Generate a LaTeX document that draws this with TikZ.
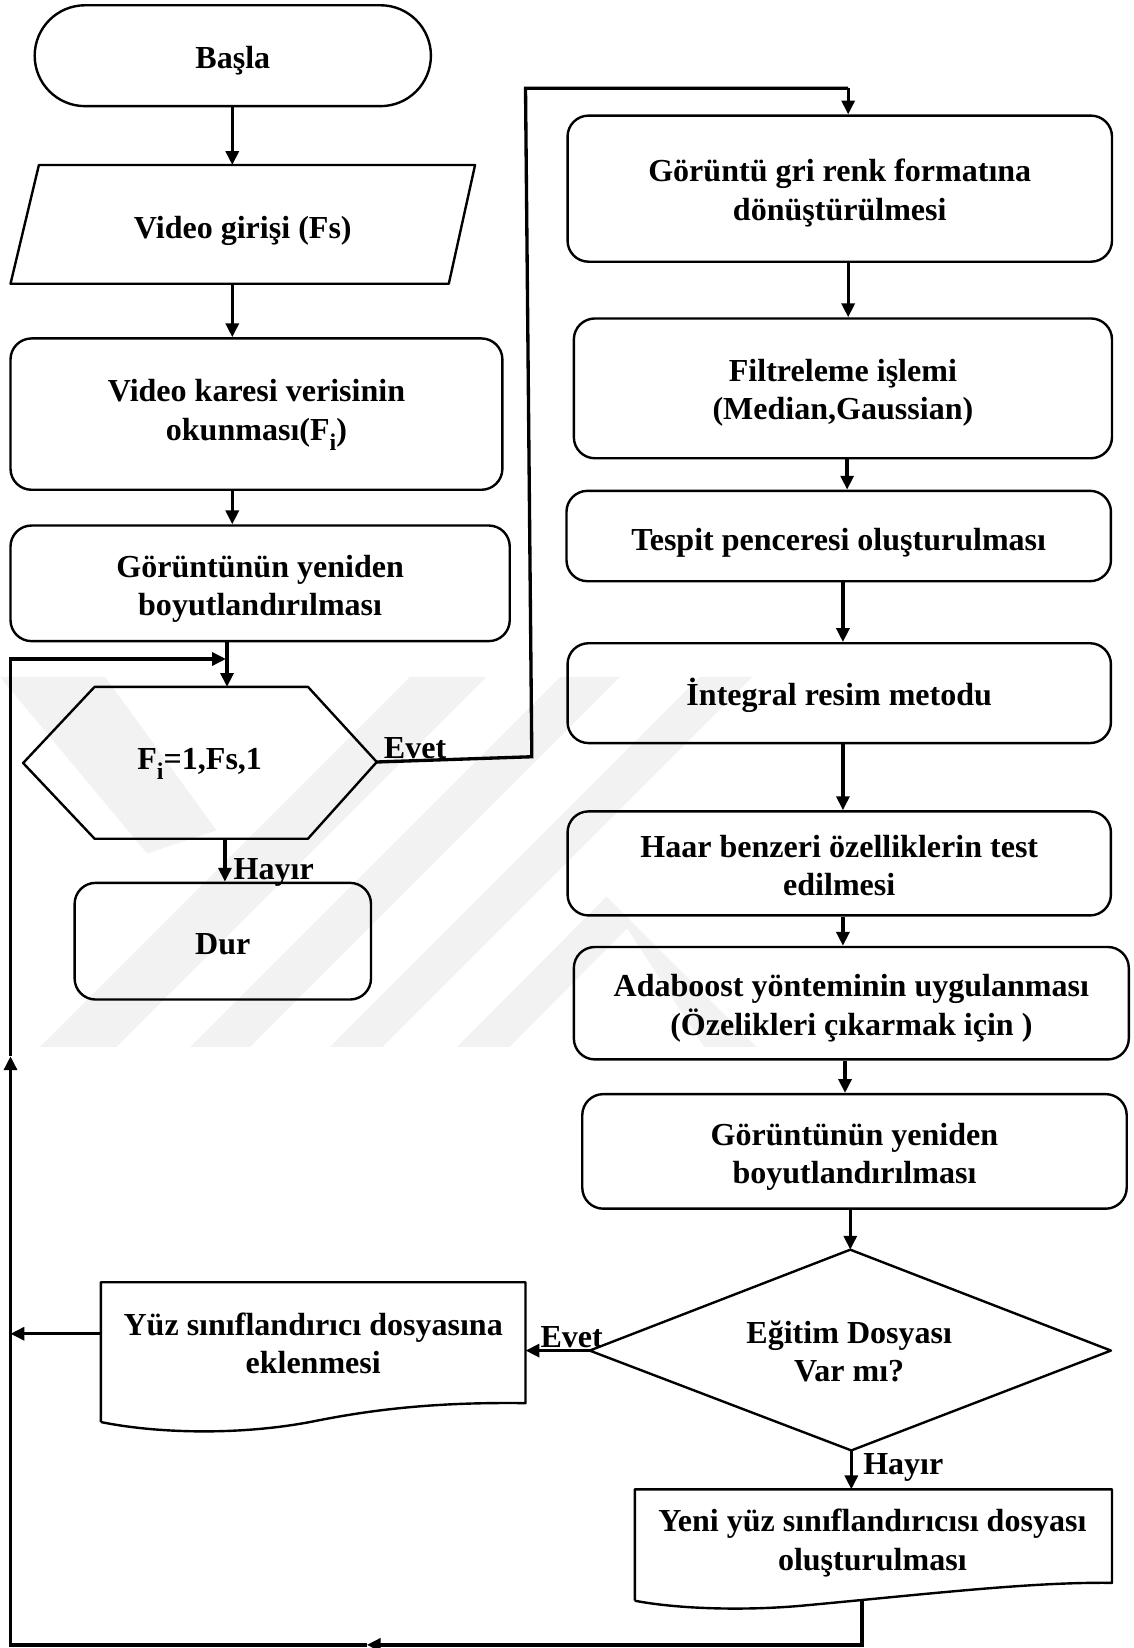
\documentclass[tikz,border=0pt]{standalone}
\usepackage{fontspec}
\setmainfont{Liberation Serif}
\usetikzlibrary{arrows.meta}
\newcommand{\subi}{\raisebox{-0.32em}{\fontsize{13}{13}\selectfont i}}
\begin{document}
\begin{tikzpicture}[x=0.02cm,y=-0.02cm,
  font=\fontsize{17.35}{20.8}\selectfont\bfseries,
  outline/.style={draw, line width=1.3pt, line join=round},
  rbox/.style={draw, line width=1.3pt, rounded corners=0.4cm, inner sep=0pt},
  wh/.style 2 args={minimum width=#1*0.02cm, minimum height=#2*0.02cm},
  txt/.style={align=center, inner sep=0pt},
  lbl/.style={inner sep=0pt, anchor=base west},
  flow/.style={line width=1.8pt, line join=miter, -{Triangle[length=7.5pt,width=7pt]}},
  link/.style={line width=1.8pt},
  wband/.style={fill=black!5, draw=none},
]
\useasboundingbox (0,0) rectangle (1078,1568);

% faint background stripes
\fill[wband] (38,996) -- (111,996) -- (463,644) -- (390,644) -- cycle;
\fill[wband] (181,996) -- (238,996) -- (590,644) -- (533,644) -- cycle;
\fill[wband] (314,996) -- (364,996) -- (716,644) -- (666,644) -- cycle;
\fill[wband] (435,996) -- (485,996) -- (602,878) -- (577,853) -- cycle;
\fill[wband] (577,853) -- (602,878) -- (720,996) -- (670,996) -- cycle;
\fill[wband] (0,644) -- (100,644) -- (206,790) -- (140,812) -- cycle;

% ---------------- left column ----------------
\node[rbox, rounded corners=0.96cm, wh={377}{96}] (start) at (221.5,53) {};
\node[txt] (start-t) at (221.5,58) {Başla};

\coordinate (vin-tl) at (37,157);
\coordinate (vin-tr) at (452,157);
\coordinate (vin-br) at (427,270);
\coordinate (vin-bl) at (10,270);
\draw[outline] (vin-tl) -- (vin-tr) -- (vin-br) -- (vin-bl) -- cycle;
\node[txt] (vin) at (231,220) {Video girişi (Fs)};
\coordinate (vin-in) at (221,157);
\coordinate (vin-out) at (221,270);

\node[rbox, wh={468}{144}] (read) at (244,394) {};
\node[txt] (read-t) at (244,395) {Video karesi verisinin\\okunması(F\subi)};
\node[rbox, wh={475}{110}] (resize1) at (247.5,555) {};
\node[txt] (resize1-t) at (247.5,560) {Görüntünün yeniden\\boyutlandırılması};

% loop hexagon
\coordinate (hex-tl) at (90,653.5);
\coordinate (hex-tr) at (293,653.5);
\coordinate (hex-r) at (358.5,725);
\coordinate (hex-br) at (293,798);
\coordinate (hex-bl) at (90,798);
\coordinate (hex-l) at (22,726);
\draw[outline] (hex-tl) -- (hex-tr) -- (hex-r) -- (hex-br) -- (hex-bl) -- (hex-l) -- cycle;
\node[txt] (loop) at (190,727) {F\subi=1,Fs,1};
\coordinate (hex-in) at (216,653.5);
\coordinate (hex-out) at (214,798);

\node[rbox, wh={282}{111}] (stop) at (212,895.5) {};
\node[txt] (stop-t) at (212,898.5) {Dur};

% ---------------- right column ----------------
\node[rbox, wh={518}{139}] (gray) at (799,179.5) {};
\node[txt] (gray-t) at (799,183.5) {Görüntü gri renk formatına\\dönüştürülmesi};
\node[rbox, wh={512}{133}] (filter) at (802,369.5) {};
\node[txt] (filter-t) at (802,373.5) {Filtreleme işlemi\\(Median,Gaussian)};
\node[rbox, wh={518}{86}] (window) at (798,510) {};
\node[txt] (window-t) at (798,516) {Tespit penceresi oluşturulması};
\node[rbox, wh={517}{95}] (integral) at (798.5,659.5) {};
\node[txt] (integral-t) at (798.5,661.5) {İntegral resim metodu};
\node[rbox, wh={517}{99}] (haar) at (798.5,821.5) {};
\node[txt] (haar-t) at (798.5,823.5) {Haar benzeri özelliklerin test\\edilmesi};
\node[rbox, wh={528}{107}] (ada) at (810,954.5) {};
\node[txt] (ada-t) at (810,959.5) {Adaboost yönteminin uygulanması\\(Özelikleri çıkarmak için )};
\node[rbox, wh={518}{109}] (resize2) at (813,1095.5) {};
\node[txt] (resize2-t) at (813,1100.5) {Görüntünün yeniden\\boyutlandırılması};

% decision diamond
\coordinate (dia-t) at (809,1189);
\coordinate (dia-r) at (1057,1285);
\coordinate (dia-b) at (810,1380);
\coordinate (dia-l) at (561,1285);
\draw[outline] (dia-t) -- (dia-r) -- (dia-b) -- (dia-l) -- cycle;
\node[txt] (train) at (808,1286) {Eğitim Dosyası\\Var mı?};

% document: append to classifier file
\coordinate (d1-tl) at (96,1220);
\coordinate (d1-tr) at (500,1220);
\coordinate (d1-br) at (500,1335);
\coordinate (d1-bl) at (96,1353);
\draw[outline] (d1-bl) -- (d1-tl) -- (d1-tr) -- (d1-br)
  .. controls (420,1334) and (360,1340) .. (300,1352)
  .. controls (230,1366) and (150,1364) .. (d1-bl);
\node[txt] (append) at (298,1278) {Yüz sınıflandırıcı dosyasına\\eklenmesi};
\coordinate (d1-in) at (500,1285);
\coordinate (d1-out) at (96,1269);

% document: new classifier file
\coordinate (d2-tl) at (604,1417);
\coordinate (d2-tr) at (1058,1417);
\coordinate (d2-br) at (1058,1506);
\coordinate (d2-bl) at (604,1523);
\draw[outline] (d2-bl) -- (d2-tl) -- (d2-tr) -- (d2-br)
  .. controls (980,1505) and (880,1517) .. (760,1528)
  .. controls (700,1533) and (640,1530) .. (d2-bl);
\node[txt] (newfile) at (830,1468) {Yeni yüz sınıflandırıcısı dosyası\\oluşturulması};
\coordinate (d2-in) at (810,1417);
\coordinate (d2-out) at (820,1523);

% ---------------- connectors ----------------
\draw[flow] (start.south -| vin-in) -- (vin-in);
\draw[flow] (vin-out) -- (vin-out |- read.north);
\draw[flow] (vin-out |- read.south) -- (vin-out |- resize1.north);
\draw[flow] (hex-in |- resize1.south) -- (hex-in);
\draw[flow] (hex-out) -- (hex-out |- stop.north);
\node[lbl] (no1) at (222,837) {Hayır};

% yes branch of the loop
\coordinate (y1) at (506,720);
\coordinate (y2) at (500,84);
\coordinate (y3) at (807,84);
\draw[link, line join=miter] (hex-r) -- (y1) -- (y2) -- (y3);
\draw[flow] (y3) -- (y3 |- gray.north);
\node[lbl] (yes1) at (365,722) {Evet};

\draw[flow] (807,0 |- gray.south) -- (807,0 |- filter.north);
\draw[flow] (806,0 |- filter.south) -- (806,0 |- window.north);
\draw[flow] (802,0 |- window.south) -- (802,0 |- integral.north);
\draw[flow] (802,0 |- integral.south) -- (802,0 |- haar.north);
\draw[flow] (802,0 |- haar.south) -- (802,0 |- ada.north);
\draw[flow] (804,0 |- ada.south) -- (804,0 |- resize2.north);
\draw[flow] (dia-t |- resize2.south) -- (dia-t);

\draw[flow] (dia-l) -- (d1-in);
\node[lbl] (yes2) at (514,1282) {Evet};
\draw[flow] (dia-b) -- (d2-in);
\node[lbl] (no2) at (821,1403) {Hayır};

% return path to the loop head
\coordinate (r1) at (820,1565);
\coordinate (r2) at (349,1565);
\coordinate (r3) at (10,1565);
\coordinate (r4) at (10,1005);
\coordinate (r5) at (10,627);
\coordinate (r6) at (215,627);
\coordinate (r7) at (10,1269);
\draw[flow] (d2-out) -- (r1) -- (r2);
\draw[flow] (r2) -- (r3) -- (r4);
\draw[flow] (r4) -- (r5) -- (r6);
\draw[flow] (d1-out) -- (r7);
\end{tikzpicture}
\end{document}
